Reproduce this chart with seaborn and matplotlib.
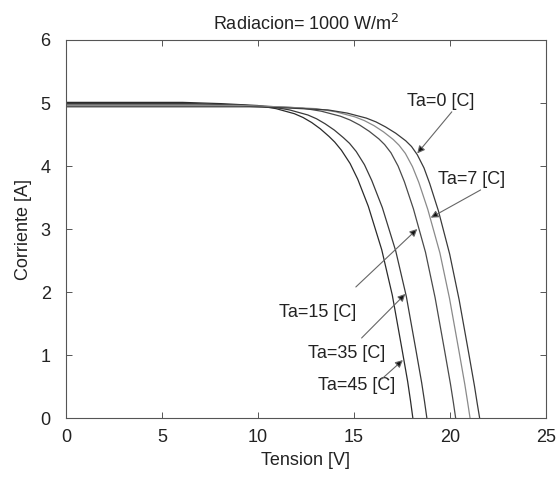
import matplotlib
matplotlib.use("Agg")
import matplotlib.pyplot as plt
import seaborn as sns
import pandas as pd

# ---- data ----
v_45 = [0, 6.07, 8.07, 10.0, 10.95, 11.9, 12.35, 12.8, 13.25, 13.7, 14.0, 14.35, 14.8, 15.2, 15.75, 16.45, 17.0, 17.5, 17.8, 17.95, 18.07]
i_45 = [5.01, 5.01, 4.99, 4.96, 4.91, 4.83, 4.77, 4.69, 4.59, 4.47, 4.38, 4.25, 4.04, 3.79, 3.36, 2.67, 1.95, 1.10, 0.58, 0.27, 0]

v_35 = [0, 6.8, 8.8, 10.7, 11.65, 12.6, 13.05, 13.5, 13.98, 14.45, 14.77, 15.12, 15.55, 15.93, 16.48, 17.18, 17.73, 18.23, 18.53, 18.68, 18.8]
i_35 = [4.99, 4.99, 4.97, 4.94, 4.89, 4.81, 4.75, 4.67, 4.57, 4.45, 4.36, 4.23, 4.02, 3.77, 3.34, 2.65, 1.93, 1.08, 0.56, 0.26, 0]

v_15 = [0, 8.3, 10.3, 12.3, 13.3, 14.3, 14.8, 15.3, 15.8, 16.3, 16.6, 16.93, 17.3, 17.63, 18.1, 18.73, 19.23, 19.73, 20.03, 20.18, 20.3]
i_15 = [4.97, 4.97, 4.95, 4.92, 4.87, 4.79, 4.73, 4.65, 4.55, 4.43, 4.34, 4.21, 4.00, 3.75, 3.32, 2.63, 1.91, 1.06, 0.54, 0.25, 0]

v_7 = [0, 9.05, 11.05, 13.05, 14.05, 15.05, 15.55, 16.05, 16.55, 17.05, 17.35, 17.68, 18.05, 18.38, 18.85, 19.48, 19.98, 20.48, 20.78, 20.93, 21.05]
i_7 = [4.96, 4.96, 4.94, 4.91, 4.86, 4.78, 4.72, 4.64, 4.54, 4.42, 4.33, 4.20, 3.99, 3.74, 3.31, 2.62, 1.90, 1.05, 0.53, 0.24, 0]

v_0 = [0, 9.55, 11.6, 13.65, 14.65, 15.65, 16.15, 16.65, 17.18, 17.7, 18.0, 18.3, 18.65, 18.95, 19.4, 19.99, 20.48, 20.98, 21.28, 21.43, 21.55]
i_0 = [4.94, 4.94, 4.92, 4.89, 4.84, 4.76, 4.70, 4.62, 4.52, 4.40, 4.31, 4.18, 3.97, 3.72, 3.29, 2.60, 1.88, 1.03, 0.51, 0.22, 0]

series_names = ["Ta=45 [C]", "Ta=35 [C]", "Ta=15 [C]", "Ta=7 [C]", "Ta=0 [C]"]
series_v = [v_45, v_35, v_15, v_7, v_0]
series_i = [i_45, i_35, i_15, i_7, i_0]
line_colors = ["#2b2b2b", "#3a3a3a", "#4a4a4a", "#8a8a8a", "#3a3a3a"]

# label positions (data coords), arrow starts and tips
label_xy = [(15.15, 0.52), (14.6, 1.03), (13.1, 1.68), (21.15, 3.78), (19.5, 5.02)]
arrow_from = [(16.45, 0.62), (15.4, 1.27), (15.1, 2.08), (21.6, 3.62), (20.1, 4.86)]
arrow_to = [(17.55, 0.92), (17.68, 1.97), (18.3, 3.0), (19.0, 3.18), (18.3, 4.2)]

x_ticks = [0, 5, 10, 15, 20, 25]
y_ticks = [0, 1, 2, 3, 4, 5, 6]

rows = []
for name, vv, ii in zip(series_names, series_v, series_i):
    for k, (a, b) in enumerate(zip(vv, ii)):
        rows.append({"serie": name, "orden": k, "Tension": a, "Corriente": b})
df = pd.DataFrame(rows)

sns.set_theme(style="ticks")
plt.rcParams["font.family"] = ["Liberation Sans", "DejaVu Sans"]

fig = plt.figure(figsize=(5.57, 4.79), dpi=100)
ax = fig.add_axes([0.1185, 0.1273, 0.8615, 0.7892])

sns.lineplot(data=df, x="Tension", y="Corriente", hue="serie", units="serie",
             estimator=None, sort=False, palette=dict(zip(series_names, line_colors)),
             linewidth=0.9, legend=False, ax=ax)

for name, (tx, ty), st, tp in zip(series_names, label_xy, arrow_from, arrow_to):
    ax.text(tx, ty, name, ha="center", va="center", fontsize=13, color="#222222")
    ax.annotate("", xy=tp, xytext=st,
                arrowprops=dict(arrowstyle="-|>", color="#666666", lw=0.8,
                                mutation_scale=11, shrinkA=0, shrinkB=0,
                                fc="#111111", ec="#666666"))

ax.set_xlim(0, 25)
ax.set_ylim(0, 6)
ax.set_xticks(x_ticks)
ax.set_yticks(y_ticks)
ax.tick_params(direction="in", length=4, width=0.7, colors="#555555",
               labelcolor="#222222", labelsize=13, top=True, right=True)
ax.tick_params(axis="x", pad=8)
ax.tick_params(axis="y", pad=11)
for s in ax.spines.values():
    s.set_color("#555555")
    s.set_linewidth(0.8)
ax.set_xlabel("Tension [V]", fontsize=13, color="#222222", labelpad=4)
ax.set_ylabel("Corriente [A]", fontsize=13, color="#222222", labelpad=6)
ax.set_title("Radiacion= 1000 W/m$^2$", fontsize=13, color="#222222", pad=7)

fig.savefig("out.png", dpi=100)
